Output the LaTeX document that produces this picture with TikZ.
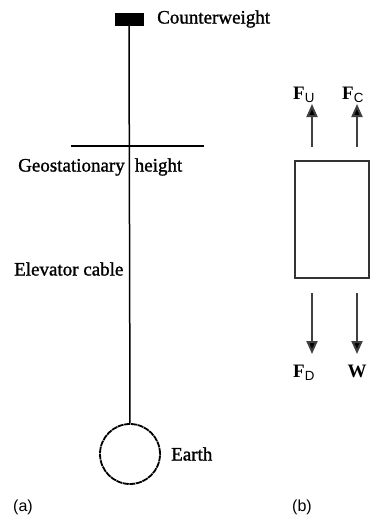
\documentclass[tikz,border=0pt]{standalone}
\usepackage{fontspec}
\setmainfont{Liberation Serif}
\newfontfamily\labfont{Liberation Sans}
\newfontfamily\heavyserif{Liberation Serif}[FakeBold=1.2]
\usetikzlibrary{arrows.meta}
\begin{document}
\begin{tikzpicture}[x=1pt,y=-1pt,
  txt/.style={inner sep=0pt,font=\heavyserif\fontsize{19}{22}\selectfont},
  sublab/.style={inner sep=0pt,font=\labfont\fontsize{16}{19}\selectfont},
  force/.style={inner sep=0pt,font=\fontsize{19}{22}\selectfont\bfseries},
  cable/.style={line width=1.5pt},
  farrow/.style={line width=2pt,draw=black!75,-{Triangle[length=13pt,width=11pt,fill=black]}}]
\useasboundingbox (0,0) rectangle (377,523);
% (a)
\node[draw,fill=black,minimum width=28pt,minimum height=12pt,inner sep=0pt] (cw) at (129,19) {};
\node[txt,anchor=west] (cwl) at (157,19) {Counterweight};
\node[draw,circle,minimum size=60pt,inner sep=0pt,line width=1.8pt,dash pattern=on 6pt off 0.7pt] (earth) at (130,454) {};
\node[txt,anchor=west] (el) at (171,454) {Earth};
\draw[cable] (cw.south) -- (earth.north);
\coordinate (g1) at (71,146);
\coordinate (g2) at (204,146);
\draw[line width=1.3pt] (g1) -- (g2);
\node[txt,anchor=west] (gl) at (18,167) {Geostationary\hspace{10pt}height};
\node[txt,anchor=west] (ec) at (14,269) {Elevator cable};
\node[sublab,anchor=west] (la) at (13,507) {(a)};
% (b)
\node[draw,line width=2pt,draw=black!80,minimum width=74pt,minimum height=117pt,inner sep=0pt] (box) at (332,219.5) {};
\coordinate (u1s) at (312,147);
\coordinate (u1e) at (312,104);
\coordinate (u2s) at (357,147);
\coordinate (u2e) at (357,104);
\coordinate (d1s) at (312,293);
\coordinate (d1e) at (312,354);
\coordinate (d2s) at (357,293);
\coordinate (d2e) at (357,354);
\draw[farrow] (u1s) -- (u1e);
\draw[farrow] (u2s) -- (u2e);
\draw[farrow] (d1s) -- (d1e);
\draw[farrow] (d2s) -- (d2e);
\node[force,anchor=base west] (fu) at (293,99) {F\textsubscript{\labfont\mdseries U}};
\node[force,anchor=base west] (fc) at (342,99) {F\textsubscript{\labfont\mdseries C}};
\node[force,anchor=base west] (fd) at (293,377) {F\textsubscript{\labfont\mdseries D}};
\node[force,anchor=base] (w) at (357,377) {W};
\node[sublab,anchor=west] (lb) at (292,507) {(b)};
\end{tikzpicture}
\end{document}
